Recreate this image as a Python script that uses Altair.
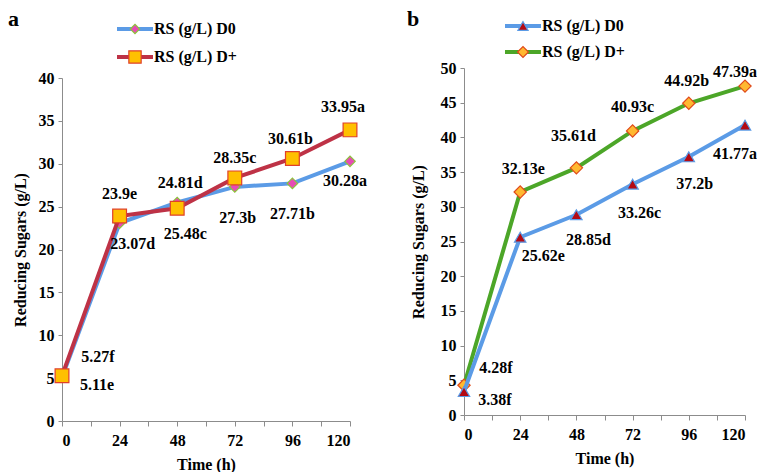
import altair as alt
import pandas as pd

time_h = [0, 24, 48, 72, 96, 120]

a_d0 = [5.11, 23.07, 25.48, 27.3, 27.71, 30.28]
a_dp = [5.27, 23.9, 24.81, 28.35, 30.61, 33.95]
a_d0_lab = ["5.11e", "23.07d", "25.48c", "27.3b", "27.71b", "30.28a"]
a_dp_lab = ["5.27f", "23.9e", "24.81d", "28.35c", "30.61b", "33.95a"]

b_d0 = [3.38, 25.62, 28.85, 33.26, 37.2, 41.77]
b_dp = [4.28, 32.13, 35.61, 40.93, 44.92, 47.39]
b_d0_lab = ["3.38f", "25.62e", "28.85d", "33.26c", "37.2b", "41.77a"]
b_dp_lab = ["4.28f", "32.13e", "35.61d", "40.93c", "44.92b", "47.39a"]

series_names = ["RS (g/L) D0", "RS (g/L) D+"]
panel_letters = ["a", "b"]

FONT = "Liberation Serif"
FS = 16
BLUE = "#5B9BE6"


def long_df(d0, dp, l0, lp):
    rows = []
    for t, v, l in zip(time_h, d0, l0):
        rows.append({"s": "D0", "t": t, "v": v, "lab": l})
    for t, v, l in zip(time_h, dp, lp):
        rows.append({"s": "D+", "t": t, "v": v, "lab": l})
    return pd.DataFrame(rows)


def panel(df, ymax, w, h, yrange, ytp, letter, letter_xy, styles, order, offsets, legend_xy, legend_gap):
    xs = alt.X("t:Q", scale=alt.Scale(domain=[0, 120], nice=False),
               axis=alt.Axis(values=list(range(0, 121, 12)),
                             labelExpr="datum.value % 24 == 0 ? datum.label : ''",
                             title="Time (h)", grid=False, domainColor="#8c8c8c",
                             tickColor="#8c8c8c", tickSize=5, labelPadding=6,
                             labelFont=FONT, labelFontSize=FS, labelFontWeight="bold",
                             labelColor="black", titleFont=FONT, titleFontSize=FS,
                             titleFontWeight="bold", titleColor="black", titlePadding=8))
    ys = alt.Y("v:Q", scale=alt.Scale(domain=[0, ymax], nice=False, range=yrange),
               axis=alt.Axis(values=list(range(0, ymax + 1, 5)), title="Reducing Sugars (g/L)",
                             grid=False, domainColor="#8c8c8c", tickColor="#8c8c8c",
                             tickSize=4, labelPadding=4,
                             labelFont=FONT, labelFontSize=FS, labelFontWeight="bold",
                             labelColor="black", titleFont=FONT, titleFontSize=FS,
                             titleFontWeight="bold", titleColor="black", titlePadding=ytp))
    base = alt.Chart(df)
    layers = []
    for s in order:
        st = styles[s]
        sub = base.transform_filter(alt.datum.s == s)
        layers.append(sub.mark_line(color=st["line"], strokeWidth=4).encode(x=xs, y=ys))
        layers.append(sub.mark_point(shape=st["shape"], filled=True, fill=st["fill"],
                                     stroke=st["stroke"], strokeWidth=1.2, size=st["size"],
                                     opacity=1).encode(x=xs, y=ys))
    for s in ["D0", "D+"]:
        for i, t in enumerate(time_h):
            dx, dy = offsets[s][i]
            layers.append(base.transform_filter((alt.datum.s == s) & (alt.datum.t == t))
                          .mark_text(font=FONT, fontSize=FS, fontWeight="bold", color="black",
                                     dx=dx, dy=dy, baseline="middle", align="center")
                          .encode(x=xs, y=ys, text="lab:N"))
    # legend (one row of data per entry)
    lx, ly = legend_xy
    for k, s in enumerate(["D0", "D+"]):
        st = styles[s]
        yy = ly + k * legend_gap
        leg = alt.Chart(pd.DataFrame({"name": [series_names[k]]}))
        layers.append(leg.mark_rule(color=st["line"], strokeWidth=4).encode(
            x=alt.value(lx), x2=alt.value(lx + 36), y=alt.value(yy)))
        layers.append(leg.mark_point(shape=st["shape"], filled=True, fill=st["fill"],
                                     stroke=st["stroke"], strokeWidth=1.2, size=st["size"] * 0.8,
                                     opacity=1).encode(x=alt.value(lx + 18), y=alt.value(yy)))
        layers.append(leg.mark_text(font=FONT, fontSize=FS, fontWeight="bold", color="black",
                                    align="left", baseline="middle")
                      .encode(x=alt.value(lx + 37), y=alt.value(yy), text="name:N"))
    let = alt.Chart(pd.DataFrame({"letter": [letter]}))
    layers.append(let.mark_text(font=FONT, fontSize=22, fontWeight="bold", color="black",
                                align="left", baseline="top")
                  .encode(x=alt.value(letter_xy[0]), y=alt.value(letter_xy[1]), text="letter:N"))
    return alt.layer(*layers).properties(width=w, height=h)


styles_a = {
    "D0": {"line": BLUE, "shape": "diamond", "fill": "#E64BB4", "stroke": "#8CC43C", "size": 110},
    "D+": {"line": "#BE3246", "shape": "square", "fill": "#FFC000", "stroke": "#E0402A", "size": 190},
}
styles_b = {
    "D0": {"line": BLUE, "shape": "triangle-up", "fill": "#B40A14", "stroke": BLUE, "size": 130},
    "D+": {"line": "#4CA628", "shape": "diamond", "fill": "#FFB830", "stroke": "#E04A1A", "size": 150},
}

off_a = {
    "D0": [(35, 8), (13, 21), (8, 31), (3, 31), (0, 31), (-5, 20)],
    "D+": [(36, -19), (0, -22), (3, -25), (0, -20), (-2, -20), (-7, -23)],
}
off_b = {
    "D0": [(31, 8), (23, 19), (12, 25), (7, 29), (6, 27), (-10, 29)],
    "D+": [(32, -17), (3, -23), (-3, -32), (0, -24), (-2, -22), (-10, -14)],
}

pa = panel(long_df(a_d0, a_dp, a_d0_lab, a_dp_lab), 40, 288, 353, [353, 10], 10,
           panel_letters[0], (-54, -59), styles_a, ["D0", "D+"], off_a, (55, -39), 28)
pb = panel(long_df(b_d0, b_dp, b_d0_lab, b_dp_lab), 50, 281, 347, [347, 0], 14,
           panel_letters[1], (-57, -59), styles_b, ["D+", "D0"], off_b, (41, -42), 26)

chart = alt.hconcat(pa, pb, spacing=40).configure_view(stroke=None).properties(
    padding={"left": 0, "top": 0, "right": 0, "bottom": 0}, background="white")

chart.save("out.html", embed_options={"renderer": "svg", "actions": False})
